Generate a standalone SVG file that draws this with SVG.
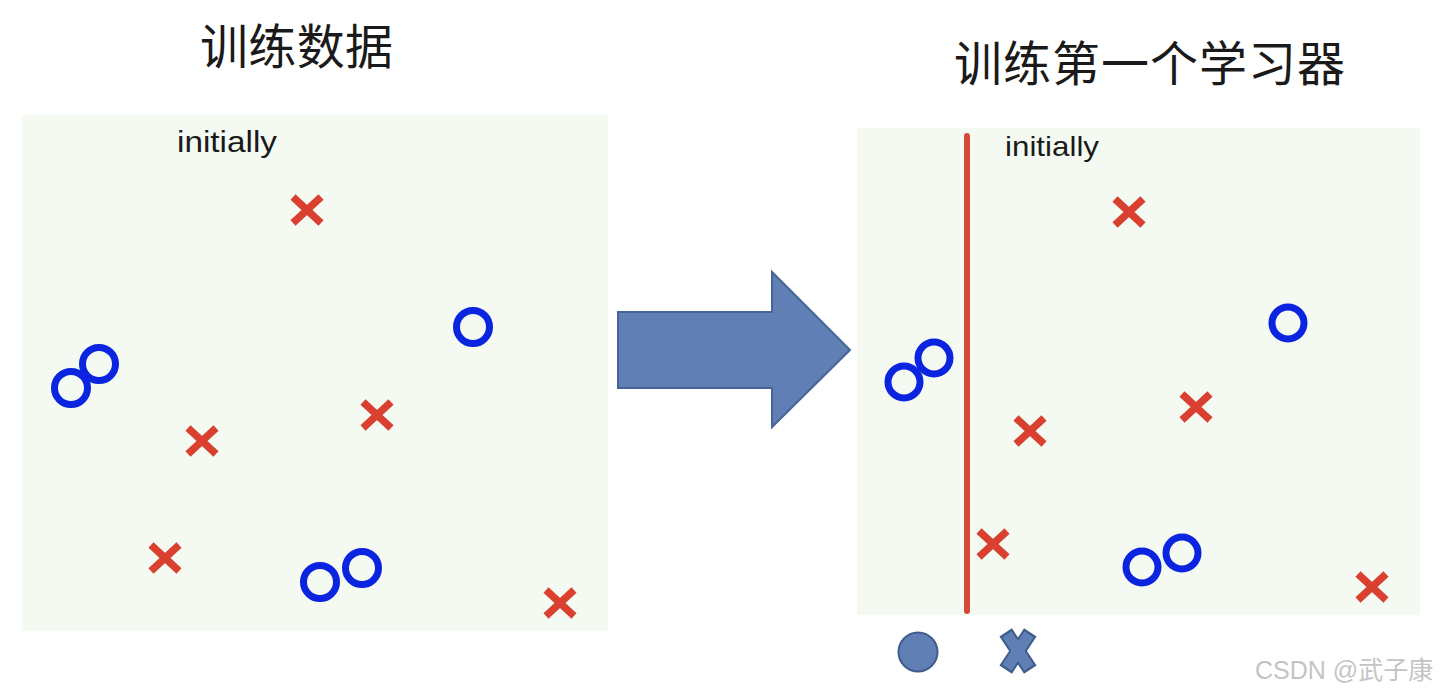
<svg xmlns="http://www.w3.org/2000/svg" width="1440" height="696" viewBox="0 0 1440 696">
<defs>
<style>
.panel{fill:#f4faf1}
.title{font-family:"Noto Sans CJK SC","Noto Sans",sans-serif;font-size:48px;fill:#1a1a1a}
.lbl{font-family:"Liberation Sans",Arial,sans-serif;fill:#1a1a1a}
.o{fill:none;stroke:#0a24e0;stroke-width:7}
.x{stroke:#d9402f;stroke-width:7.5;stroke-linecap:butt;fill:none}
.wm{font-family:"Liberation Sans","Noto Sans CJK SC",sans-serif;font-size:25px;fill:#c4c4c4}
</style>
<g id="xm"><path class="x" d="M-14,-13 L14,13 M-14,13 L14,-13"/></g>
</defs>
<rect width="1440" height="696" fill="#ffffff"/>

<g id="left-panel">
<text class="title" x="200" y="64" textLength="193" lengthAdjust="spacing">训练数据</text>
<rect class="panel" x="22" y="115" width="586" height="516"/>
<text class="lbl" x="177" y="152" font-size="30" textLength="100" lengthAdjust="spacingAndGlyphs">initially</text>
<use href="#xm" x="307" y="210"/>
<use href="#xm" x="202" y="441"/>
<use href="#xm" x="377" y="415"/>
<use href="#xm" x="165" y="558"/>
<use href="#xm" x="560" y="603"/>
<circle class="o" cx="473" cy="327" r="16.5"/>
<circle class="o" cx="71" cy="388" r="16.5"/>
<circle class="o" cx="99" cy="364" r="16.5"/>
<circle class="o" cx="320" cy="582" r="16.5"/>
<circle class="o" cx="362" cy="568" r="16.5"/>
</g>

<g id="connectors">
<polygon points="618,312 772,312 772,272 850,350 772,427 772,388 618,388" fill="#5f7fb5" stroke="#456596" stroke-width="2"/>
</g>

<g id="right-panel">
<text class="title" x="954" y="81" font-size="49" textLength="391" lengthAdjust="spacing">训练第一个学习器</text>
<rect class="panel" x="857" y="128" width="563" height="487"/>
<line x1="967" y1="136" x2="967" y2="611" stroke="#d44a3a" stroke-width="6" stroke-linecap="round"/>
<text class="lbl" x="1005" y="156" font-size="28" textLength="94" lengthAdjust="spacingAndGlyphs">initially</text>
<use href="#xm" x="1129" y="212"/>
<use href="#xm" x="1196" y="407"/>
<use href="#xm" x="1030" y="431"/>
<use href="#xm" x="993" y="544"/>
<use href="#xm" x="1372" y="587"/>
<circle class="o" cx="1288" cy="323" r="16"/>
<circle class="o" cx="904" cy="382" r="16"/>
<circle class="o" cx="934" cy="358" r="16"/>
<circle class="o" cx="1142" cy="567" r="16"/>
<circle class="o" cx="1182" cy="553" r="16"/>
</g>

<g id="legend">
<circle cx="918" cy="652" r="19.5" fill="#5f7fb5" stroke="#3f5d8c" stroke-width="2"/>
<g transform="translate(1018,651)">
<path d="M-12.3,-18.6 L12.3,18.6 M-12.3,18.6 L12.3,-18.6" stroke="#3f5d8c" stroke-width="15" fill="none"/>
<path d="M-11,-16.6 L11,16.6 M-11,16.6 L11,-16.6" stroke="#5f7fb5" stroke-width="11" fill="none"/>
</g>
</g>

<text class="wm" x="1255" y="679">CSDN @武子康</text>
</svg>
